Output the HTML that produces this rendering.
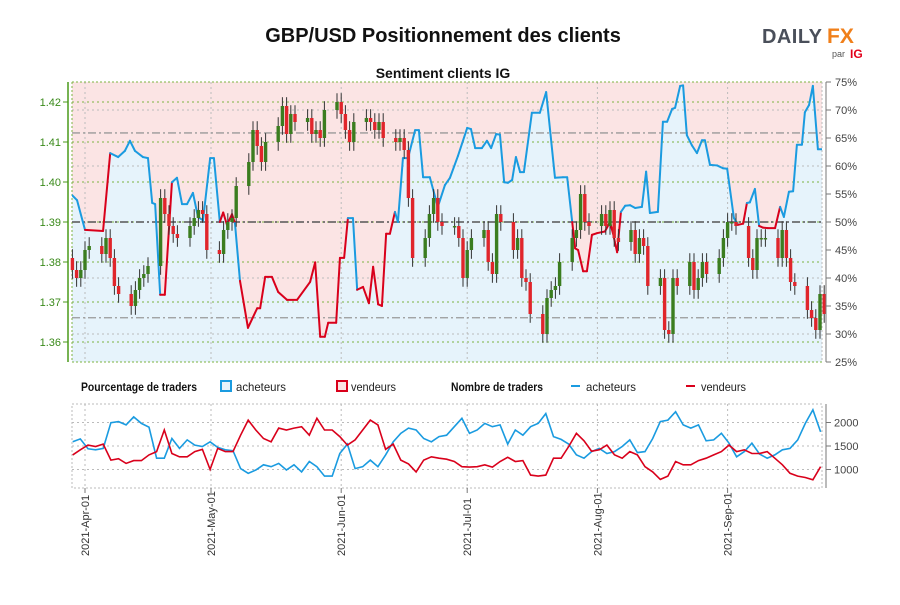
<!DOCTYPE html>
<html><head><meta charset="utf-8">
<style>
body{margin:0;background:#fff;width:900px;height:600px;overflow:hidden;font-family:"Liberation Sans",sans-serif}
svg text{font-family:"Liberation Sans",sans-serif}
</style></head>
<body>
<svg id="chart" width="900" height="600" viewBox="0 0 900 600" xmlns="http://www.w3.org/2000/svg">
<text x="443" y="42" text-anchor="middle" font-size="20" font-weight="bold" fill="#111">GBP/USD Positionnement des clients</text>
<text x="443" y="78" text-anchor="middle" font-size="14" font-weight="bold" fill="#111">Sentiment clients IG</text>
<g>
<text x="762" y="43" font-size="20" font-weight="bold" fill="#4a4f5a" textLength="60" lengthAdjust="spacing">DAILY</text>
<text x="827" y="43" font-size="21" font-weight="bold" fill="#f07f1a">FX</text>
<text x="832" y="57" font-size="9" fill="#555">par</text>
<text x="850" y="58" font-size="12" font-weight="bold" fill="#e2001a">IG</text>
</g>
<g id="main"></g>
<g id="legend">
<text x="81" y="391" font-size="12" font-weight="bold" fill="#111" textLength="116" lengthAdjust="spacingAndGlyphs">Pourcentage de traders</text>
<rect x="221" y="381" width="10" height="10" fill="#e6f3fb" stroke="#1a9be0" stroke-width="2"/>
<text x="236" y="391" font-size="12" fill="#222" textLength="50" lengthAdjust="spacingAndGlyphs">acheteurs</text>
<rect x="337" y="381" width="10" height="10" fill="#fbe4e4" stroke="#d9001b" stroke-width="2"/>
<text x="351" y="391" font-size="12" fill="#222" textLength="45" lengthAdjust="spacingAndGlyphs">vendeurs</text>
<text x="451" y="391" font-size="12" fill="#111" font-weight="bold" textLength="92" lengthAdjust="spacingAndGlyphs">Nombre de traders</text>
<line x1="571" y1="386" x2="580" y2="386" stroke="#1a9be0" stroke-width="2"/>
<text x="586" y="391" font-size="12" fill="#222" textLength="50" lengthAdjust="spacingAndGlyphs">acheteurs</text>
<line x1="686" y1="386" x2="695" y2="386" stroke="#d9001b" stroke-width="2"/>
<text x="701" y="391" font-size="12" fill="#222" textLength="45" lengthAdjust="spacingAndGlyphs">vendeurs</text>
</g>
<g id="bottom"></g>
</svg>
<script>
// ---- data ----
const monthLabels = ["2021-Apr-01","2021-May-01","2021-Jun-01","2021-Jul-01","2021-Aug-01","2021-Sep-01"];
const monthDays = [0,30,61,91,122,153];
const priceTicks = [1.36,1.37,1.38,1.39,1.40,1.41,1.42];
const pctTicks = [25,30,35,40,45,50,55,60,65,70,75];
const countTicks = [1000,1500,2000];
// closes per trading day from Mon 29 Mar
const closes = [1.378,1.376,1.378,1.383,1.384,1.382,1.386,1.381,1.374,1.372,1.369,1.373,1.376,1.377,1.379,1.396,1.392,1.389,1.387,1.386,1.389,1.391,1.393,1.392,1.383,1.382,1.388,1.390,1.391,1.399,1.405,1.413,1.409,1.405,1.410,1.414,1.419,1.412,1.417,1.415,1.416,1.412,1.413,1.411,1.418,1.420,1.417,1.413,1.410,1.415,1.416,1.415,1.413,1.415,1.411,1.410,1.411,1.408,1.396,1.381,1.386,1.392,1.396,1.390,1.389,
1.389,1.386,1.376,1.383,1.386,1.388,1.380,1.377,1.392,1.390,1.383,1.386,1.376,1.375,1.367,1.362,1.371,1.373,1.374,1.380,1.386,1.388,1.397,1.390,1.389,1.392,1.389,1.393,1.386,1.385,1.388,1.382,1.386,1.384,1.374,1.376,1.363,1.362,1.376,1.374,1.380,1.373,1.376,1.380,1.377,1.381,1.386,1.390,1.390,1.389,1.381,1.378,1.386,1.386,1.386,1.381,1.388,1.381,1.375,1.374,1.368,1.366,1.363,1.372,1.367];
const firstOpen = 1.381;
const pctDays = [-3.1,-1.9,0,4.3,6.0,7.9,9.5,10.7,11.9,13.8,15.0,16.0,16.7,17.9,19.0,20.7,21.9,23.1,24.3,25.7,26.9,28.1,29.8,30.7,32.1,32.9,33.8,35.0,35.7,36.9,38.8,41.0,41.7,42.9,44.5,46.0,48.1,50.5,53.6,54.8,56.0,57.1,57.9,59.8,60.7,61.7,62.6,63.8,64.8,66.2,67.6,68.6,69.8,70.7,71.7,72.6,73.8,74.5,75.7,76.9,78.6,79.5,80.5,82.1,84.0,85.7,86.9,88.8,91.0,91.9,92.9,94.5,95.7,96.7,97.9,98.8,99.8,100.7,101.7,102.6,103.6,104.5,106.4,108.3,109.8,111.9,113.8,114.8,116.0,116.7,117.4,118.6,119.5,120.7,121.9,123.1,123.8,125.0,125.7,126.7,127.6,128.6,129.8,131.0,132.6,133.6,134.5,136.4,137.6,138.6,139.8,140.5,141.7,142.4,143.3,144.5,145.7,146.9,147.6,148.8,150.5,151.9,152.9,154.5,155.5,156.7,157.6,158.3,159.5,160.5,161.4,162.6,164.3,165.5,166.4,167.6,168.6,169.5,170.7,171.4,172.4,173.3,174.5,175.7];
const pctLong = [54.8,53.9,48.6,48.4,62.3,61.6,62.7,64.5,62.7,61.6,61.4,53.4,53.2,37.0,37.0,57.1,57.9,53.2,53.2,55.2,50.9,50.3,61.4,61.4,50.0,51.7,49.5,51.4,49.8,39.5,31.1,34.6,34.6,40.2,40.2,37.5,36.1,36.1,39.3,42.8,29.5,29.5,32.0,32.0,43.6,43.6,50.7,50.7,37.9,38.4,35.5,42.0,35.3,35.0,47.9,47.9,51.8,50.0,61.4,61.4,66.4,66.4,58.0,58.0,52.7,56.6,57.9,61.8,66.8,66.6,63.2,63.2,64.5,63.2,65.7,65.6,57.1,57.0,57.5,61.6,58.9,58.9,69.5,69.5,73.2,57.9,58.0,58.0,50.0,45.3,45.0,41.2,41.2,47.7,48.0,48.2,48.3,50.0,48.0,44.6,51.8,52.9,53.0,52.5,52.7,59.0,51.6,51.8,67.9,67.9,70.2,70.4,74.3,74.4,65.5,63.7,62.3,64.6,64.6,60.2,60.1,59.6,59.5,50.7,49.5,49.7,53.4,53.5,55.9,49.3,49.0,48.9,48.9,52.7,50.9,55.4,55.5,63.8,63.8,69.6,70.9,74.3,63.0,63.0];
const redRanges = [[0,6.0],[17.9,20.7],[32.1,35.7],[36.9,62.6],[64.8,73.8],[116.0,127.6],[155.5,157.6],[160.5,165.5]];
const refPcts = [65.9,32.9];
const countStartDay = -2.93, countStepDays = 1.817;
const countLong = [1590,1650,1440,1420,1450,1995,2020,1950,2120,1980,1900,1240,1240,1660,1450,1630,1520,1490,1590,1470,1420,1400,1020,920,990,1100,1060,1130,990,1100,950,1170,1060,860,860,1340,1540,1020,1060,1200,1060,1310,1590,1770,1880,1840,1660,1590,1700,1730,1910,2090,1770,1840,1980,1910,1950,1540,1840,1730,1910,1980,2190,1700,1640,1540,1310,1240,1380,1450,1340,1380,1490,1630,1360,1380,1660,2020,2050,2230,1950,1880,1950,1610,1630,1770,1560,1270,1380,1560,1330,1240,1310,1420,1450,1630,1980,2270,1800];
const countShort = [1310,1420,1520,1490,1540,1200,1230,1130,1190,1190,1310,1380,1840,1340,1270,1270,1380,1430,1000,1450,1380,1380,1730,2050,1840,1660,1590,1880,1840,1880,1910,1730,2090,1840,1840,1700,1520,1630,1840,2050,1950,1430,1540,1200,1120,950,1200,1270,1240,1220,1170,1060,1050,1060,1100,1050,1170,1260,1170,1190,880,860,880,1240,1240,1490,1770,1610,1390,1420,1520,1310,1240,1380,1310,1060,950,790,860,1170,1100,1100,1190,1240,1310,1380,1520,1380,1420,1340,1340,1380,1240,1100,920,860,830,780,1060];

// ---- scales ----
const L=72,R=822,T=82,B=362;
const xDay=d=>85+d*4.2;
const yPrice=p=>102+(1.42-p)*4000;
const yPct=v=>82+(75-v)*5.6;
const yCount=v=>446-(v-1500)*0.047;
const NS="http://www.w3.org/2000/svg";
function mk(parent,tag,attrs){const e=document.createElementNS(NS,tag);for(const k in attrs)e.setAttribute(k,attrs[k]);parent.appendChild(e);return e;}
const main=document.getElementById('main');
const bottom=document.getElementById('bottom');

const defs=mk(main,'defs',{});
const cp=mk(defs,'clipPath',{id:'clipMain'});mk(cp,'rect',{x:L,y:T,width:R-L,height:B-T});
const cp2=mk(defs,'clipPath',{id:'clipBot'});mk(cp2,'rect',{x:L,y:404,width:R-L+2,height:84});

const pts=pctDays.map((d,i)=>[xDay(d),yPct(pctLong[i])]);
const lineStr=pts.map(p=>p[0].toFixed(1)+','+p[1].toFixed(1)).join(' ');
const pink=mk(main,'polygon',{points:pts[0][0]+','+T+' '+lineStr+' '+pts[pts.length-1][0]+','+T,fill:'#fbe4e4','clip-path':'url(#clipMain)'});


const blue=mk(main,'polygon',{points:pts[0][0]+','+B+' '+lineStr+' '+pts[pts.length-1][0]+','+B,fill:'#e6f3fb','clip-path':'url(#clipMain)'});



priceTicks.forEach(p=>{const g=mk(main,'line',{x1:L,x2:R,y1:yPrice(p),y2:yPrice(p),stroke:'#7cb342','stroke-width':1,'stroke-dasharray':'2,3'});

});
[30,40,60,70].forEach(v=>{const g=mk(main,'line',{x1:L,x2:R,y1:yPct(v),y2:yPct(v),stroke:'#bbb','stroke-width':1,'stroke-dasharray':'2,3'});

});
monthDays.forEach(d=>{const g=mk(main,'line',{x1:xDay(d),x2:xDay(d),y1:T,y2:B,stroke:'#bbb','stroke-width':1,'stroke-dasharray':'2,3'});

});
[T,B].forEach(y=>{const g=mk(main,'line',{x1:L,x2:R,y1:y,y2:y,stroke:'#7cb342','stroke-width':1,'stroke-dasharray':'2,2'});

});
mk(main,'line',{x1:L,x2:L,y1:T,y2:B,stroke:'#7cb342','stroke-dasharray':'2,2'});
mk(main,'line',{x1:R,x2:R,y1:T,y2:B,stroke:'#bbb','stroke-dasharray':'2,2'});
refPcts.forEach(v=>{const g=mk(main,'line',{x1:L,x2:R,y1:yPct(v),y2:yPct(v),stroke:'#999','stroke-width':1.3,'stroke-dasharray':'8,3,2,3'});

});
const mid=mk(main,'line',{x1:L,x2:R,y1:yPct(50),y2:yPct(50),stroke:'#555','stroke-width':1.5,'stroke-dasharray':'8,3,2,3'});



const isRed=m=>redRanges.some(r=>m>=r[0]&&m<=r[1]);
for(let i=1;i<pts.length;i++){
  const m=(pctDays[i-1]+pctDays[i])/2;
  const s=mk(main,'line',{x1:pts[i-1][0],y1:pts[i-1][1],x2:pts[i][0],y2:pts[i][1],stroke:isRed(m)?'#d9001b':'#1a9be0','stroke-width':2,'stroke-linecap':'round','clip-path':'url(#clipMain)'});
  
  
}

closes.forEach((c,i)=>{
  const o=i===0?firstOpen:closes[i-1];
  const d=-3+Math.floor(i/5)*7+(i%5);
  const x=xDay(d);
  const hi=Math.max(o,c)+0.0022, lo=Math.min(o,c)-0.0022;
  const g=mk(main,'g',{});
  
  
  mk(g,'line',{x1:x,x2:x,y1:yPrice(hi),y2:yPrice(lo),stroke:'#333','stroke-width':1});
  const y1=yPrice(Math.max(o,c)),y2=yPrice(Math.min(o,c));
  mk(g,'rect',{x:x-1.7,y:y1,width:3.4,height:Math.max(1.5,y2-y1),fill:c>=o?'#3b7d1f':'#e0252b'});
});

mk(main,'line',{x1:68,x2:68,y1:T,y2:B,stroke:'#4a9a1a','stroke-width':1.5});
priceTicks.forEach(p=>{
  mk(main,'line',{x1:63,x2:68,y1:yPrice(p),y2:yPrice(p),stroke:'#4a9a1a'});
  const t=mk(main,'text',{x:61,y:yPrice(p)+4,'text-anchor':'end','font-size':11,fill:'#3a8a1a'});
  t.textContent=p.toFixed(2);
  
  
});
mk(main,'line',{x1:826,x2:826,y1:T,y2:B,stroke:'#777','stroke-width':1});
pctTicks.forEach(v=>{
  mk(main,'line',{x1:826,x2:831,y1:yPct(v),y2:yPct(v),stroke:'#777'});
  const t=mk(main,'text',{x:835,y:yPct(v)+4,'font-size':11,fill:'#444'});
  t.textContent=v+'%';
  
  
});

mk(bottom,'rect',{x:L,y:404,width:R-L,height:84,fill:'none',stroke:'#bbb','stroke-dasharray':'2,2'});
countTicks.forEach(v=>{
  const g=mk(bottom,'line',{x1:L,x2:R,y1:yCount(v),y2:yCount(v),stroke:'#bbb','stroke-dasharray':'2,3'});
  
  
  mk(bottom,'line',{x1:826,x2:831,y1:yCount(v),y2:yCount(v),stroke:'#777'});
  const t=mk(bottom,'text',{x:834,y:yCount(v)+4,'font-size':11,fill:'#444'});
  t.textContent=v;
  
  
});
mk(bottom,'line',{x1:826,x2:826,y1:404,y2:488,stroke:'#777'});
monthDays.forEach((d,i)=>{
  const x=xDay(d);
  mk(bottom,'line',{x1:x,x2:x,y1:404,y2:488,stroke:'#bbb','stroke-dasharray':'2,3'});
  mk(bottom,'line',{x1:x,x2:x,y1:488,y2:493,stroke:'#777'});
  const t=mk(bottom,'text',{x:0,y:0,transform:'translate('+(x+4)+',556) rotate(-90)','font-size':11,fill:'#333'});
  t.textContent=monthLabels[i];
  
  
});
function countLine(vals,color,name){
  const p=vals.map((v,k)=>xDay(countStartDay+k*countStepDays).toFixed(1)+','+yCount(v).toFixed(1)).join(' ');
  const l=mk(bottom,'polyline',{points:p,fill:'none',stroke:color,'stroke-width':1.6,'clip-path':'url(#clipBot)'});
  
  
}
countLine(countLong,'#1a9be0','long-count-line');
countLine(countShort,'#d9001b','short-count-line');
</script>
</body></html>
